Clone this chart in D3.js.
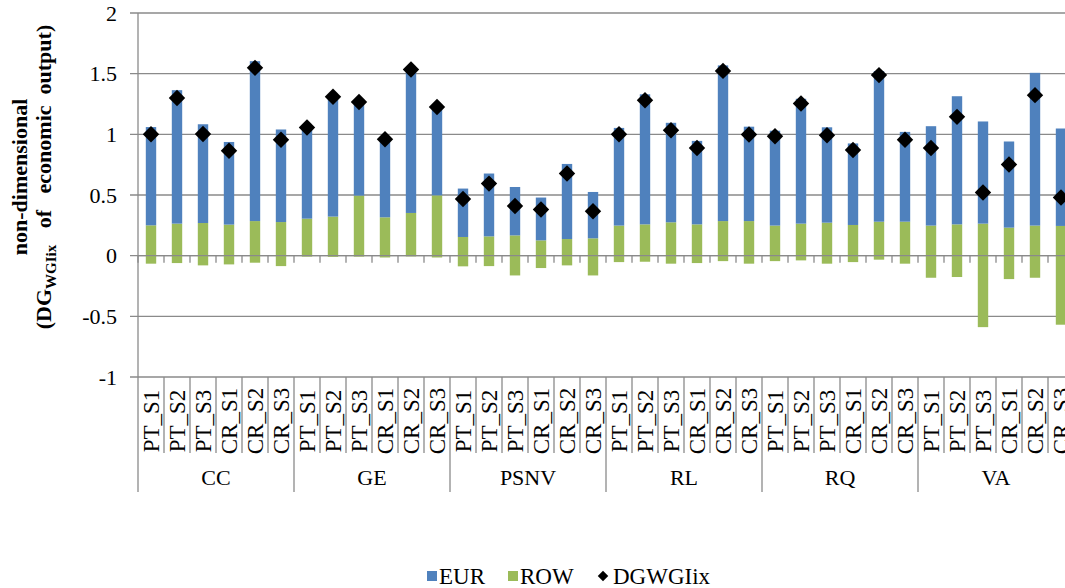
<!DOCTYPE html>
<html>
<head>
<meta charset="utf-8">
<script src="https://cdn.jsdelivr.net/npm/d3@7"></script>
<style>
  body { margin: 0; background: #fff; }
  svg { display: block; font-family: "Liberation Serif", "Times New Roman", serif; }
</style>
</head>
<body>
<svg id="chart" width="1065" height="588"></svg>
<script>
// values
const groups = ["CC", "GE", "PSNV", "RL", "RQ", "VA"];
const scenarios = ["PT_S1", "PT_S2", "PT_S3", "CR_S1", "CR_S2", "CR_S3"];
const yTicks = [-1, -0.5, 0, 0.5, 1, 1.5, 2];

const eur = [
  0.81, 1.10, 0.814, 0.681, 1.318, 0.763,
  0.76, 0.998, 0.78, 0.659, 1.188, 0.743,
  0.399, 0.518, 0.399, 0.353, 0.619, 0.382,
  0.805, 1.072, 0.82, 0.688, 1.283, 0.778,
  0.782, 1.029, 0.786, 0.672, 1.241, 0.74,
  0.819, 1.056, 0.842, 0.71, 1.259, 0.803
];
const rowPos = [
  0.25, 0.264, 0.269, 0.256, 0.285, 0.277,
  0.305, 0.322, 0.495, 0.316, 0.352, 0.497,
  0.154, 0.159, 0.167, 0.126, 0.137, 0.143,
  0.248, 0.258, 0.275, 0.258, 0.285, 0.285,
  0.248, 0.264, 0.272, 0.253, 0.28, 0.28,
  0.248, 0.258, 0.264, 0.231, 0.248, 0.245
];
const rowNeg = [
  -0.066, -0.061, -0.08, -0.072, -0.058, -0.086,
  -0.008, -0.01, -0.008, -0.015, -0.006, -0.015,
  -0.088, -0.086, -0.163, -0.102, -0.08, -0.163,
  -0.053, -0.05, -0.066, -0.061, -0.045, -0.066,
  -0.045, -0.039, -0.066, -0.053, -0.033, -0.066,
  -0.182, -0.176, -0.589, -0.193, -0.182, -0.569
];
const dgwgiix = [
  1.0, 1.30, 1.003, 0.865, 1.548, 0.955,
  1.057, 1.31, 1.267, 0.96, 1.534, 1.225,
  0.467, 0.594, 0.41, 0.38, 0.677, 0.366,
  1.0, 1.281, 1.034, 0.888, 1.523, 0.998,
  0.984, 1.254, 0.993, 0.871, 1.488, 0.956,
  0.888, 1.144, 0.52, 0.751, 1.323, 0.479
];

const blue = "#4F81BD", green = "#9BBB59", grid = "#8a8a8a";

const rows = [];
groups.forEach((g, gi) => scenarios.forEach((s, si) => {
  const i = gi * scenarios.length + si;
  rows.push({key: g + "|" + s, group: g, scen: s,
    rowPos: rowPos[i], eur: eur[i], rowNeg: rowNeg[i], dg: dgwgiix[i]});
}));

const left = 138, step = 26;
const right = left + rows.length * step;
const svg = d3.select("#chart");

const x = d3.scaleBand()
  .domain(rows.map(d => d.key))
  .range([left, right])
  .paddingInner(0.6)
  .paddingOuter(0.3);

const y = d3.scaleLinear().domain([-1, 2]).range([377, 13]);

// gridlines
svg.append("g")
  .selectAll("line")
  .data(yTicks)
  .join("line")
  .attr("x1", left - 8).attr("x2", right)
  .attr("y1", d => y(d)).attr("y2", d => y(d))
  .attr("stroke", grid).attr("stroke-width", 1.3);

// y axis tick labels (plain hyphen for negatives)
svg.append("g")
  .selectAll("text")
  .data(yTicks)
  .join("text")
  .attr("x", 117)
  .attr("y", d => y(d))
  .attr("dy", "0.35em")
  .attr("text-anchor", "end")
  .attr("font-size", 22)
  .text(d => String(d));

// stacked bars
const stack = d3.stack()
  .keys(["rowPos", "eur", "rowNeg"])
  .offset(d3.stackOffsetDiverging);
const series = stack(rows);
const colour = {rowPos: green, eur: blue, rowNeg: green};

svg.append("g")
  .selectAll("g")
  .data(series)
  .join("g")
  .attr("fill", d => colour[d.key])
  .selectAll("rect")
  .data(d => d)
  .join("rect")
  .attr("x", d => x(d.data.key))
  .attr("width", x.bandwidth())
  .attr("y", d => y(Math.max(d[0], d[1])))
  .attr("height", d => Math.abs(y(d[0]) - y(d[1])));

// zero axis line and ticks
svg.append("line")
  .attr("x1", left).attr("x2", right)
  .attr("y1", y(0)).attr("y2", y(0))
  .attr("stroke", grid).attr("stroke-width", 1.3);

const bounds = d3.range(rows.length + 1).map(i => left + i * step);
svg.append("g")
  .selectAll("line")
  .data(bounds)
  .join("line")
  .attr("x1", d => d).attr("x2", d => d)
  .attr("y1", y(0)).attr("y2", y(0) + 7)
  .attr("stroke", grid).attr("stroke-width", 1.3);

// DGWGIix markers
svg.append("g")
  .selectAll("path")
  .data(rows)
  .join("path")
  .attr("d", d3.symbol(d3.symbolSquare, 135))
  .attr("transform", d => `translate(${x(d.key) + x.bandwidth() / 2},${y(d.dg)}) rotate(45)`)
  .attr("fill", "#000");

// y axis line
svg.append("line")
  .attr("x1", left).attr("x2", left)
  .attr("y1", y(2)).attr("y2", 492)
  .attr("stroke", grid).attr("stroke-width", 1.3);

// category table
const tbl = svg.append("g");
tbl.selectAll("line.sub")
  .data(bounds.slice(1))
  .join("line")
  .attr("class", "sub")
  .attr("x1", d => d).attr("x2", d => d)
  .attr("y1", y(-1)).attr("y2", (d, i) => (i + 1) % scenarios.length === 0 ? 492 : 453)
  .attr("stroke", grid).attr("stroke-width", 1.3);

tbl.selectAll("text.scen")
  .data(rows)
  .join("text")
  .attr("class", "scen")
  .attr("transform", d => `translate(${x(d.key) + x.bandwidth() / 2},421) rotate(-90)`)
  .attr("dy", "0.33em")
  .attr("text-anchor", "middle")
  .attr("font-size", 23)
  .text(d => d.scen);

tbl.selectAll("text.grp")
  .data(groups)
  .join("text")
  .attr("class", "grp")
  .attr("x", (d, i) => left + (i + 0.5) * scenarios.length * step)
  .attr("y", 485)
  .attr("text-anchor", "middle")
  .attr("font-size", 22)
  .text(d => d);

// y axis title
svg.append("text")
  .attr("transform", "translate(27,177) rotate(-90)")
  .attr("text-anchor", "middle")
  .attr("font-size", 22)
  .attr("font-weight", "bold")
  .text("non-dimensional");

const t2 = svg.append("text")
  .attr("transform", "translate(51,177) rotate(-90)")
  .attr("text-anchor", "middle")
  .attr("font-size", 22)
  .attr("font-weight", "bold")
  .style("white-space", "pre");
t2.append("tspan").text("(DG");
t2.append("tspan").attr("font-size", 15).attr("dy", 5).text("WGIix");
t2.append("tspan").attr("dy", -5).text("   of   economic  output)");

// legend
const legend = [
  {name: "EUR", type: "rect", color: blue, x: 427},
  {name: "ROW", type: "rect", color: green, x: 508},
  {name: "DGWGIix", type: "diamond", color: "#000", x: 597}
];
const lg = svg.append("g")
  .selectAll("g")
  .data(legend)
  .join("g")
  .attr("transform", d => `translate(${d.x},576)`);

lg.filter(d => d.type === "rect").append("rect")
  .attr("y", -5).attr("width", 10).attr("height", 10)
  .attr("fill", d => d.color);
lg.filter(d => d.type === "diamond").append("path")
  .attr("d", d3.symbol(d3.symbolSquare, 55))
  .attr("transform", "translate(6,0) rotate(45)")
  .attr("fill", "#000");
lg.append("text")
  .attr("x", d => d.type === "rect" ? 12 : 16)
  .attr("dy", "0.35em")
  .attr("font-size", 23)
  .text(d => d.name);
</script>
</body>
</html>
